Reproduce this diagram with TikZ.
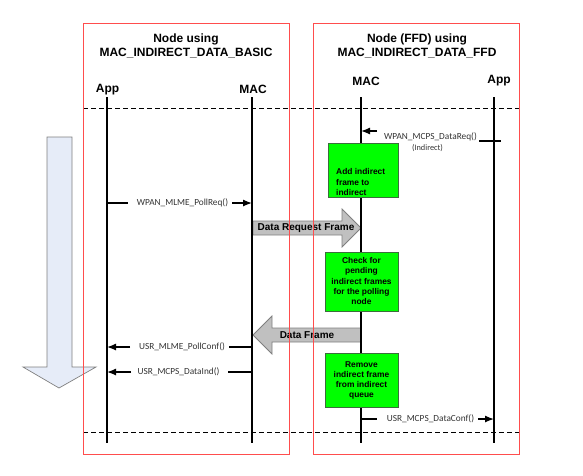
\documentclass[tikz,border=0pt]{standalone}
\usepackage{fontspec}
\setmainfont{Liberation Sans}
\newfontfamily\calib{Carlito}
\usetikzlibrary{arrows.meta}
\definecolor{boxred}{HTML}{FF4D4D}
\definecolor{grn}{HTML}{00FF00}
\definecolor{grnline}{HTML}{3C6E3C}
\definecolor{greyfill}{HTML}{C0C0C0}
\definecolor{greyline}{HTML}{7F7F7F}
\definecolor{bluefill}{HTML}{E6ECF8}
\begin{document}
\begin{tikzpicture}[x=1pt,y=-1pt,
  lifeline/.style={line width=1.6pt},
  sepline/.style={line width=1pt, dash pattern=on 5pt off 3pt},
  frame/.style={draw=boxred, line width=1pt},
  title/.style={font=\fontsize{12}{14}\selectfont\bfseries, align=center, inner sep=0pt},
  actor/.style={font=\fontsize{12}{14}\selectfont\bfseries, inner sep=0pt},
  msg/.style={line width=1.3pt, -{Latex[length=9pt,width=7pt]}},
  msgline/.style={line width=1.3pt},
  lbl/.style={font=\calib\fontsize{9.3}{11}\selectfont, text=black!80, inner sep=0pt},
  sublbl/.style={font=\calib\fontsize{8.3}{9}\selectfont, text=black!80, inner sep=0pt},
  proc/.style={draw=grnline, fill=grn, line width=0.6pt},
  proctext/.style={font=\fontsize{8.4}{10.2}\selectfont\bfseries, inner sep=0pt},
  blockarrow/.style={draw=greyline, fill=greyfill, line width=0.8pt},
  blocktext/.style={font=\fontsize{10}{12}\selectfont\bfseries, inner sep=0pt},
  flowarrow/.style={draw=greyline, fill=bluefill, line width=0.7pt}
]
\useasboundingbox (0,0) rectangle (583,475);

% time flow arrow
\draw[flowarrow] (47,137) -- (72,137) -- (72,367) -- (96,367) -- (59,388) -- (23,367) -- (47,367) -- cycle;

% block arrows (frames over the air)
\draw[blockarrow] (253,221) -- (342,221) -- (342,209) -- (361,228) -- (342,247) -- (342,235) -- (253,235) -- cycle;
\node[blocktext] (drf) at (306,228) {Data Request Frame};
\draw[blockarrow] (361,328) -- (272,328) -- (272,316) -- (253,335) -- (272,354) -- (272,342) -- (361,342) -- cycle;
\node[blocktext] (df) at (307,335) {Data Frame};

% titles and actors
\node[title] (tL) at (186,46) {Node using\\MAC\_INDIRECT\_DATA\_BASIC};
\node[title] (tR) at (417,46) {Node (FFD) using\\MAC\_INDIRECT\_DATA\_FFD};
\node[actor] (appL) at (107.5,90) {App};
\node[actor] (macL) at (253,89) {MAC};
\node[actor] (macR) at (366,81) {MAC};
\node[actor] (appR) at (499,81) {App};

% lifelines
\coordinate (aLt) at (107,97);  \coordinate (aLb) at (107,443);
\coordinate (mLt) at (252,97);  \coordinate (mLb) at (252,443);
\coordinate (mRt) at (361,97);  \coordinate (mRb) at (361,443);
\coordinate (aRt) at (494,97);  \coordinate (aRb) at (494,443);
\draw[lifeline] (aLt) -- (aLb);
\draw[lifeline] (mLt) -- (mLb);
\draw[lifeline] (mRt) -- (mRb);
\draw[lifeline] (aRt) -- (aRb);

% separators
\coordinate (d1a) at (83,108);  \coordinate (d1b) at (520,108);
\coordinate (d2a) at (83,432);  \coordinate (d2b) at (520,432);
\draw[sepline] (d1a) -- (d1b);
\draw[sepline] (d2a) -- (d2b);

% WPAN_MCPS_DataReq()
\coordinate (dq1) at (479,141); \coordinate (dq2) at (501,141);
\coordinate (dq3) at (377,131); \coordinate (dq4) at (361,131);
\draw[msgline] (dq1) -- (dq2);
\draw[msg] (dq3) -- (dq4);
\node[lbl] (dqlbl) at (430.5,137) {WPAN\_MCPS\_DataReq()};
\node[sublbl] (dqsub) at (427.5,148) {(Indirect)};

% processing boxes
\node[proc, minimum width=70pt, minimum height=54pt] (p1) at (363,170) {};
\node[proctext, anchor=west, align=left] (p1t) at (336,182) {Add indirect\\frame to\\indirect};
\node[proc, minimum width=73pt, minimum height=59pt] (p2) at (361.5,281.5) {};
\node[proctext, align=center] (p2t) at (361.5,281) {Check for\\pending\\indirect frames\\for the polling\\node};
\node[proc, minimum width=73pt, minimum height=54pt] (p3) at (361.5,380) {};
\node[proctext, align=center] (p3t) at (361.5,380.5) {Remove\\indirect frame\\from indirect\\queue};

% WPAN_MLME_PollReq()
\coordinate (pr1) at (107,203); \coordinate (pr2) at (128,203);
\coordinate (pr3) at (232,203); \coordinate (pr4) at (252,203);
\draw[msgline] (pr1) -- (pr2);
\draw[msg] (pr3) -- (pr4);
\node[lbl] (prlbl) at (182.5,203) {WPAN\_MLME\_PollReq()};

% USR_MLME_PollConf()
\coordinate (pc1) at (252,347); \coordinate (pc2) at (229,347);
\coordinate (pc3) at (130,347); \coordinate (pc4) at (107,347);
\draw[msgline] (pc1) -- (pc2);
\draw[msg] (pc3) -- (pc4);
\node[lbl] (pclbl) at (182,347) {USR\_MLME\_PollConf()};

% USR_MCPS_DataInd()
\coordinate (di1) at (252,372); \coordinate (di2) at (228,372);
\coordinate (di3) at (131,372); \coordinate (di4) at (107,372);
\draw[msgline] (di1) -- (di2);
\draw[msg] (di3) -- (di4);
\node[lbl] (dilbl) at (178.5,372) {USR\_MCPS\_DataInd()};

% USR_MCPS_DataConf()
\coordinate (dc1) at (361,419); \coordinate (dc2) at (377,419);
\coordinate (dc3) at (478,419); \coordinate (dc4) at (494,419);
\draw[msgline] (dc1) -- (dc2);
\draw[msg] (dc3) -- (dc4);
\node[lbl] (dclbl) at (430.5,419) {USR\_MCPS\_DataConf()};

% node frames
\draw[frame] (83,23) rectangle (289,454);
\draw[frame] (313,23) rectangle (519,454);
\end{tikzpicture}
\end{document}
